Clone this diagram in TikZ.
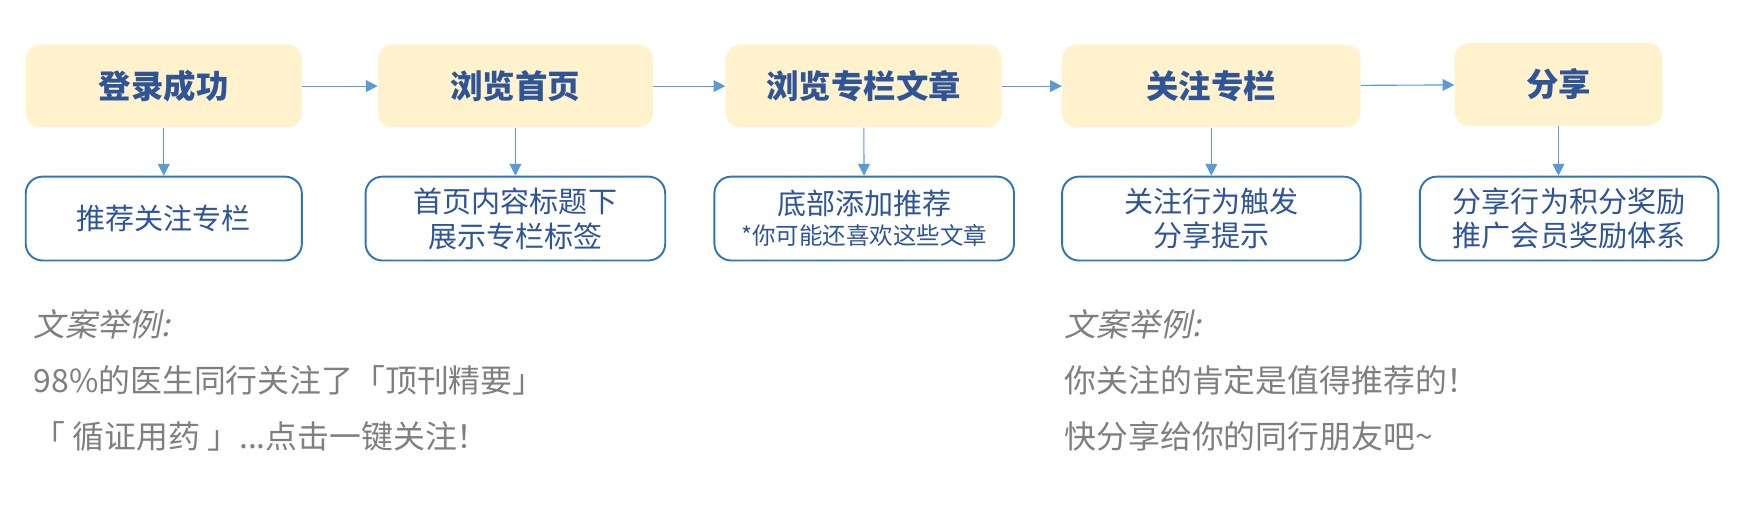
\documentclass[tikz,border=0pt]{standalone}
\usepackage{fontspec}
\setmainfont{Noto Sans CJK SC}
\newfontfamily\slantcjk[FakeSlant=0.2]{Noto Sans CJK SC}
\usetikzlibrary{arrows.meta,positioning}
\definecolor{stagefill}{HTML}{FFF2CC}
\definecolor{titleblue}{HTML}{2F5597}
\definecolor{lineblue}{HTML}{2E75B6}
\definecolor{arrowblue}{HTML}{5B9BD5}
\definecolor{copygray}{HTML}{7F7F7F}

\begin{document}
\begin{tikzpicture}[x=1pt,y=-1pt,>={Triangle[length=10.5pt,width=10.5pt]},
	stage/.style={rectangle,rounded corners=13pt,fill=stagefill,text=titleblue,
		font=\fontsize{29}{32}\selectfont\bfseries,minimum height=74pt,inner sep=0pt},
	note/.style={rectangle,rounded corners=15pt,draw=lineblue,line width=1.7pt,fill=white,
		text=titleblue,font=\fontsize{26}{31}\selectfont,align=center,minimum height=75pt,inner sep=0pt},
	copy/.style={anchor=west,text=copygray,font=\fontsize{28.5}{32}\selectfont,inner sep=0pt},
	flow/.style={->,draw=arrowblue,fill=arrowblue,line width=1pt}]
	
	\useasboundingbox (0,0) rectangle (1568,455.3);
	
	%Schritte
	\node (s1) [stage, minimum width=247pt] at (146.5,77) {登录成功};
	\node (s2) [stage, minimum width=246pt] at (461,77) {浏览首页};
	\node (s3) [stage, minimum width=247pt] at (772.5,77) {浏览专栏文章};
	\node (s4) [stage, minimum width=267pt] at (1083.5,77) {关注专栏};
	\node (s5) [stage, minimum width=186pt] at (1394,75.5) {分享};
	
	%Hinweise
	\node (n1) [note, minimum width=247pt] at (146.5,195.5) {推荐关注专栏};
	\node (n2) [note, minimum width=268pt] at (461,195.5) {首页内容标题下\\展示专栏标签};
	\node (n3) [note, minimum width=268pt] at (773,195.5) {底部添加推荐\\[-4pt]{\fontsize{21}{25}\selectfont *你可能还喜欢这些文章}};
	\node (n4) [note, minimum width=267pt] at (1083.5,195.5) {关注行为触发\\分享提示};
	\node (n5) [note, minimum width=267pt] at (1403.5,195.5) {分享行为积分奖励\\推广会员奖励体系};
	
	%Kanten
	\path[flow]
	(s1) edge (s2)
	(s2) edge (s3)
	(s3) edge (s4)
	(s4) edge (s5)
	
	(s1) edge (n1)
	(s2) edge (n2)
	(s3) edge (n3)
	(s4) edge (n4);
	\draw[flow] (s5.south) -- (s5.south |- n5.north);
	
	%Texte
	\node (c1) [copy] at (30,290) {\slantcjk 文案举例:};
	\node (c2) [copy] at (30,340) {98\%的医生同行关注了「顶刊精要」};
	\node (c3) [copy] at (30,390) {「 循证用药 」...点击一键关注！};
	
	\node (c4) [copy] at (952,290) {\slantcjk 文案举例:};
	\node (c5) [copy] at (952,340) {你关注的肯定是值得推荐的！};
	\node (c6) [copy] at (952,390) {快分享给你的同行朋友吧\textasciitilde};
	
\end{tikzpicture}
\end{document}
